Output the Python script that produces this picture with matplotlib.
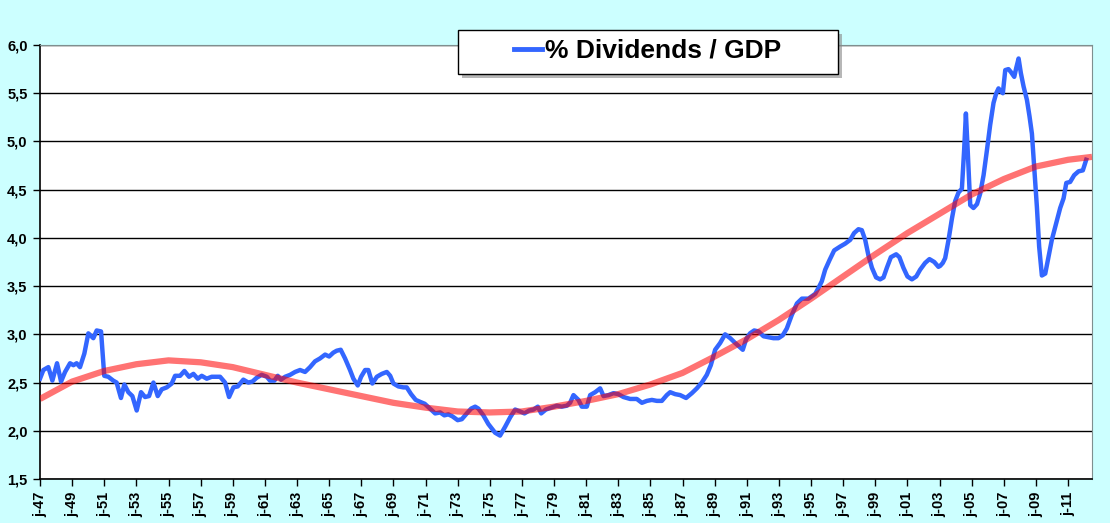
import matplotlib.pyplot as plt
from matplotlib.patches import Rectangle
from matplotlib.lines import Line2D

plt.rcParams['font.family'] = ['Liberation Sans', 'DejaVu Sans']
plt.rcParams['font.weight'] = 'bold'

# ==== data ====
years = [
    1947.00, 1947.21, 1947.52, 1947.77, 1948.06, 1948.31, 1948.56, 1948.87,
    1949.08, 1949.28, 1949.49, 1949.76, 1950.01, 1950.32, 1950.53, 1950.80,
    1951.00, 1951.25, 1951.56, 1951.77, 1952.04, 1952.25, 1952.50, 1952.75,
    1953.02, 1953.29, 1953.54, 1953.79, 1954.06, 1954.33, 1954.58, 1954.89,
    1955.20, 1955.41, 1955.72, 1955.99, 1956.28, 1956.55, 1956.82, 1957.07,
    1957.38, 1957.69, 1958.21, 1958.52, 1958.77, 1959.04, 1959.31, 1959.66,
    1959.97, 1960.22, 1960.49, 1960.80, 1961.12, 1961.32, 1961.59, 1961.80,
    1962.00, 1962.26, 1962.57, 1962.88, 1963.19, 1963.50, 1963.81, 1964.12,
    1964.43, 1964.75, 1965.00, 1965.26, 1965.47, 1965.72, 1965.99, 1966.30,
    1966.51, 1966.78, 1966.99, 1967.24, 1967.44, 1967.69, 1967.97, 1968.28,
    1968.59, 1968.80, 1969.00, 1969.31, 1969.62, 1969.83, 1970.10, 1970.39,
    1970.66, 1970.95, 1971.28, 1971.60, 1971.91, 1972.17, 1972.42, 1972.67,
    1973.00, 1973.26, 1973.57, 1973.84, 1974.09, 1974.29, 1974.60, 1974.91,
    1975.33, 1975.64, 1975.95, 1976.27, 1976.58, 1976.89, 1977.16, 1977.45,
    1977.72, 1977.99, 1978.20, 1978.49, 1978.82, 1979.17, 1979.48, 1979.80,
    1980.00, 1980.21, 1980.52, 1980.73, 1981.04, 1981.25, 1981.56, 1981.87,
    1982.08, 1982.39, 1982.70, 1983.00, 1983.32, 1983.74, 1984.15, 1984.47,
    1984.78, 1985.09, 1985.40, 1985.71, 1986.02, 1986.23, 1986.54, 1986.85,
    1987.22, 1987.58, 1987.89, 1988.20, 1988.51, 1988.76, 1989.03, 1989.34,
    1989.65, 1989.97, 1990.28, 1990.55, 1990.75, 1990.96, 1991.20, 1991.46,
    1991.73, 1992.04, 1992.35, 1992.66, 1992.97, 1993.24, 1993.49, 1993.80,
    1994.12, 1994.43, 1994.84, 1995.26, 1995.46, 1995.67, 1995.88, 1996.15,
    1996.44, 1996.81, 1997.12, 1997.44, 1997.68, 1997.95, 1998.16, 1998.37,
    1998.57, 1998.79, 1999.05, 1999.30, 1999.51, 1999.72, 1999.97, 2000.30,
    2000.50, 2000.75, 2001.00, 2001.28, 2001.55, 2001.79, 2002.10, 2002.37,
    2002.67, 2002.93, 2003.04, 2003.20, 2003.35, 2003.56, 2003.77, 2003.97,
    2004.18, 2004.39, 2004.53, 2004.64, 2004.76, 2004.91, 2005.11, 2005.33,
    2005.53, 2005.74, 2005.95, 2006.15, 2006.36, 2006.53, 2006.67, 2006.82,
    2006.94, 2007.09, 2007.29, 2007.44, 2007.65, 2007.77, 2007.92, 2008.06,
    2008.23, 2008.44, 2008.60, 2008.75, 2008.89, 2009.06, 2009.20, 2009.37,
    2009.58, 2009.78, 2009.99, 2010.26, 2010.51, 2010.72, 2010.89, 2011.13,
    2011.38, 2011.65, 2011.92, 2012.13,
]
div_gdp = [
    2.54, 2.63, 2.66, 2.52, 2.70, 2.51, 2.61, 2.70,
    2.68, 2.70, 2.66, 2.80, 3.01, 2.96, 3.04, 3.03,
    2.57, 2.56, 2.52, 2.50, 2.34, 2.48, 2.40, 2.36,
    2.21, 2.40, 2.35, 2.36, 2.50, 2.36, 2.43, 2.45,
    2.49, 2.57, 2.57, 2.62, 2.56, 2.59, 2.54, 2.57,
    2.54, 2.56, 2.56, 2.50, 2.35, 2.45, 2.46, 2.53,
    2.50, 2.51, 2.55, 2.58, 2.56, 2.52, 2.52, 2.57,
    2.53, 2.56, 2.58, 2.61, 2.63, 2.61, 2.66, 2.72,
    2.75, 2.79, 2.77, 2.81, 2.83, 2.84, 2.75, 2.63,
    2.54, 2.47, 2.56, 2.63, 2.63, 2.49, 2.56, 2.59,
    2.61, 2.57, 2.49, 2.46, 2.45, 2.45, 2.38, 2.32,
    2.30, 2.28, 2.23, 2.18, 2.19, 2.16, 2.17, 2.15,
    2.11, 2.12, 2.18, 2.23, 2.25, 2.23, 2.16, 2.07,
    1.98, 1.95, 2.04, 2.14, 2.22, 2.20, 2.18, 2.21,
    2.22, 2.25, 2.18, 2.22, 2.24, 2.26, 2.25, 2.26,
    2.29, 2.37, 2.32, 2.25, 2.25, 2.37, 2.40, 2.44,
    2.36, 2.37, 2.39, 2.38, 2.35, 2.33, 2.33, 2.29,
    2.31, 2.32, 2.31, 2.31, 2.37, 2.40, 2.38, 2.37,
    2.34, 2.39, 2.44, 2.50, 2.58, 2.68, 2.84, 2.91,
    3.00, 2.96, 2.91, 2.87, 2.84, 2.95, 3.01, 3.04,
    3.03, 2.98, 2.97, 2.96, 2.96, 2.99, 3.06, 3.20,
    3.32, 3.37, 3.37, 3.42, 3.48, 3.55, 3.67, 3.77,
    3.87, 3.91, 3.94, 3.98, 4.05, 4.09, 4.08, 3.98,
    3.82, 3.69, 3.59, 3.57, 3.59, 3.69, 3.80, 3.83,
    3.80, 3.69, 3.60, 3.57, 3.60, 3.67, 3.74, 3.78,
    3.75, 3.70, 3.71, 3.74, 3.79, 3.98, 4.20, 4.38,
    4.47, 4.51, 4.91, 5.29, 4.88, 4.34, 4.31, 4.35,
    4.46, 4.65, 4.91, 5.17, 5.40, 5.50, 5.55, 5.52,
    5.50, 5.74, 5.75, 5.72, 5.67, 5.76, 5.86, 5.71,
    5.57, 5.43, 5.26, 5.08, 4.74, 4.32, 3.91, 3.61,
    3.63, 3.80, 3.98, 4.15, 4.31, 4.41, 4.57, 4.58,
    4.65, 4.69, 4.70, 4.81,
]

# polynomial trend line as drawn on the chart
trend_years = [1947, 1949, 1951, 1953, 1955, 1957, 1959, 1961, 1963, 1965,
               1967, 1969, 1971, 1973, 1975, 1977, 1979, 1981, 1983, 1985,
               1987, 1989, 1991, 1993, 1995, 1997, 1999, 2001, 2003, 2005,
               2007, 2009, 2011, 2012.49]
trend_vals = [2.33, 2.51, 2.62, 2.69, 2.73, 2.71, 2.66, 2.58, 2.50, 2.43,
              2.36, 2.29, 2.24, 2.20, 2.19, 2.20, 2.25, 2.31, 2.38, 2.48,
              2.60, 2.77, 2.95, 3.15, 3.37, 3.60, 3.83, 4.05, 4.25, 4.45,
              4.61, 4.74, 4.81, 4.84]

tick_years = list(range(1947, 2012, 2))
tick_labels = ['j-%02d' % (y % 100) for y in tick_years]
y_ticks = [1.5, 2.0, 2.5, 3.0, 3.5, 4.0, 4.5, 5.0, 5.5, 6.0]

# ==== figure ====
W, H = 1110, 523
fig = plt.figure(figsize=(W / 100, H / 100), dpi=100, facecolor='#ccffff')
ax = fig.add_axes([40 / W, 1 - 479 / H, (1092 - 40) / W, (479 - 45) / H])
ax.set_facecolor('white')

ax.plot(years, div_gdp, color='#3366ff', lw=3.2, zorder=3,
        solid_joinstyle='round')
ax.plot(trend_years, trend_vals, color='#ff0000', alpha=0.55, lw=4.5, zorder=4,
        solid_capstyle='butt')

ax.set_xlim(1947, 2012.49)
ax.set_ylim(1.5, 6.0)
ax.set_xticks(tick_years)
ax.set_xticklabels(tick_labels, rotation=90)
ax.set_yticks(y_ticks)
ax.set_yticklabels([('%.1f' % v).replace('.', ',') for v in y_ticks])
ax.tick_params(axis='both', direction='out', length=5, width=1, colors='black',
               labelsize=10.5)
ax.tick_params(axis='y', pad=4)
ax.tick_params(axis='x', pad=4)

ax.grid(axis='y', color='black', lw=1)
ax.set_axisbelow(True)
for side in ['top', 'right']:
    ax.spines[side].set_color('#7f8f8f')
for side in ['left', 'bottom']:
    ax.spines[side].set_color('black')
    ax.spines[side].set_linewidth(1.2)

# legend box with shadow
fig.add_artist(Rectangle((462 / W, 1 - 78 / H), 380 / W, 44 / H,
                         transform=fig.transFigure, facecolor='#888888',
                         alpha=0.6, edgecolor='none', zorder=5))
fig.add_artist(Rectangle((458 / W, 1 - 74 / H), 380 / W, 44 / H,
                         transform=fig.transFigure, facecolor='white',
                         edgecolor='black', lw=1, zorder=6))
leg = fig.legend(handles=[Line2D([], [], color='#3366ff', lw=3.5)],
                 labels=['% Dividends / GDP'], loc='center',
                 bbox_to_anchor=(648 / W, 1 - 51 / H), frameon=False,
                 prop=dict(size=19, weight='bold'), handlelength=1.05,
                 handletextpad=0.12)
leg.set_zorder(7)

fig.savefig('out.png', dpi=100, facecolor=fig.get_facecolor())
